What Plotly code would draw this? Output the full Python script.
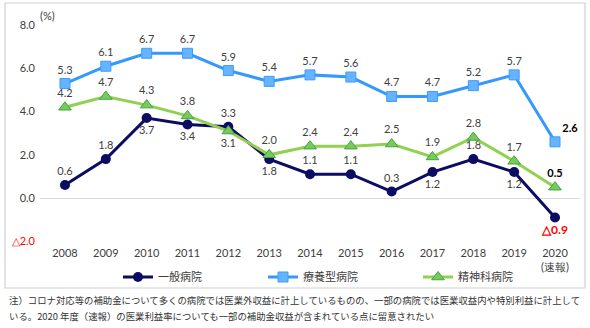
import plotly.graph_objects as go

# 医業利益率の推移（%）
years = ["2008", "2009", "2010", "2011", "2012", "2013", "2014",
         "2015", "2016", "2017", "2018", "2019", "2020"]
year_labels = years[:-1] + ["2020<br>(速報)"]

general = [0.6, 1.8, 3.7, 3.4, 3.3, 1.8, 1.1, 1.1, 0.3, 1.2, 1.8, 1.2, -0.9]
longterm = [5.3, 6.1, 6.7, 6.7, 5.9, 5.4, 5.7, 5.6, 4.7, 4.7, 5.2, 5.7, 2.6]
psych = [4.2, 4.7, 4.3, 3.8, 3.1, 2.0, 2.4, 2.4, 2.5, 1.9, 2.8, 1.7, 0.5]

y_ticks = [8.0, 6.0, 4.0, 2.0, 0.0, -2.0]

names = ["一般病院", "療養型病院", "精神科病院"]

note_lines = [
    "注）コロナ対応等の補助金について多くの病院では医業外収益に計上しているものの、一部の病院では医業収益内や特別利益に計上して",
    "いる。2020 年度（速報）の医業利益率についても一部の補助金収益が含まれている点に留意されたい",
]

LABEL_GRAY = "#404040"
RED = "#ff0000"
NUM_FONT = "Lato, 'Noto Sans', sans-serif"
JP_FONT = "'Noto Sans CJK JP', sans-serif"


def fmt(v):
    # 負の値は「△」表記
    return f"{v:.1f}" if v >= 0 else f"△{-v:.1f}"


def labels(values):
    out = [fmt(v) for v in values]
    out[-1] = f"<b>{out[-1]}</b>"
    return out


def tick_text(v):
    s = fmt(v)
    return f"<span style='color:{RED}'>{s}</span>" if v < 0 else s


x_idx = list(range(len(years)))

gen_pos = ["top center", "top center", "bottom center", "bottom center", "top center",
           "bottom center", "top center", "top center", "top center", "bottom center",
           "top center", "bottom center", "bottom center"]
lt_pos = ["top center"] * 12 + ["top right"]
ps_pos = ["top center"] * 4 + ["bottom center"] + ["top center"] * 8

gen_colors = [LABEL_GRAY if v >= 0 else RED for v in general]
gen_sizes = [11] * 12 + [12]
lt_colors = [LABEL_GRAY] * 12 + ["#000000"]
ps_colors = [LABEL_GRAY] * 12 + ["#000000"]

fig = go.Figure()

fig.add_trace(go.Scatter(
    x=x_idx, y=general, name=names[0], mode="lines+markers+text",
    line=dict(color="#0c0c63", width=3),
    marker=dict(symbol="circle", size=10, color="#0c0c63"),
    text=labels(general), textposition=gen_pos,
    textfont=dict(family=NUM_FONT, size=gen_sizes, color=gen_colors),
    cliponaxis=False, legend="legend",
))
fig.add_trace(go.Scatter(
    x=x_idx, y=longterm, name=names[1], mode="lines+markers+text",
    line=dict(color="#3399ff", width=3),
    marker=dict(symbol="square", size=10, color="#66b3ff",
                line=dict(color="#3d9cff", width=1)),
    text=labels(longterm), textposition=lt_pos,
    textfont=dict(family=NUM_FONT, size=11, color=lt_colors),
    cliponaxis=False, legend="legend2",
))
fig.add_trace(go.Scatter(
    x=x_idx, y=psych, name=names[2], mode="lines+markers+text",
    line=dict(color="#92d050", width=3),
    marker=dict(symbol="triangle-up", size=11, color="#7cc95a",
                line=dict(color="#3aa648", width=1)),
    text=labels(psych), textposition=ps_pos,
    textfont=dict(family=NUM_FONT, size=11, color=ps_colors),
    cliponaxis=False, legend="legend3",
))

W, H = 590, 328
L, R, T, B = 40, 580, 10, 245


def px_x(px):
    return (px - L) / (R - L)


def px_y(py):
    return (B - py) / (B - T)


# 外枠
fig.add_shape(type="rect", xref="paper", yref="paper",
              x0=px_x(5), x1=px_x(585), y0=px_y(288), y1=px_y(3),
              line=dict(color="#d0d0d0", width=1.2), layer="below")

fig.add_annotation(text="(%)", xref="paper", yref="paper",
                   x=px_x(47), y=px_y(15), xanchor="center", yanchor="middle",
                   showarrow=False,
                   font=dict(family=NUM_FONT, size=11, color=LABEL_GRAY))

for i, line in enumerate(note_lines):
    fig.add_annotation(text=line, xref="paper", yref="paper",
                       x=px_x(7), y=px_y(300 + 16 * i), xanchor="left",
                       yanchor="middle", showarrow=False,
                       font=dict(family=JP_FONT, size=9.4, color="#333333"))


def legend_box(px):
    return dict(orientation="h", x=px_x(px), y=px_y(277),
                xanchor="left", yanchor="middle",
                font=dict(family=JP_FONT, size=11, color=LABEL_GRAY),
                bgcolor="rgba(0,0,0,0)")


fig.update_layout(
    width=W, height=H,
    margin=dict(l=L, r=W - R, t=T, b=H - B),
    paper_bgcolor="white", plot_bgcolor="white",
    font=dict(family=NUM_FONT, size=11, color=LABEL_GRAY),
    showlegend=True,
    legend=legend_box(118),
    legend2=legend_box(263),
    legend3=legend_box(418),
    xaxis=dict(range=[-0.612, 12.612], tickmode="array", tickvals=x_idx,
               ticktext=year_labels, showgrid=False, zeroline=False,
               showline=False, ticks="", tickfont=dict(size=11, color=LABEL_GRAY)),
    yaxis=dict(range=[(B - 198) / -21.6, (198 - T) / 21.6], tickmode="array",
               tickvals=y_ticks, ticktext=[tick_text(v) for v in y_ticks],
               showgrid=False, zeroline=True, zerolinecolor="#d9d9d9",
               zerolinewidth=1, showline=False, ticks="", ticklabelstandoff=4,
               tickfont=dict(size=11, color=LABEL_GRAY)),
)

fig.write_html("out.html")
